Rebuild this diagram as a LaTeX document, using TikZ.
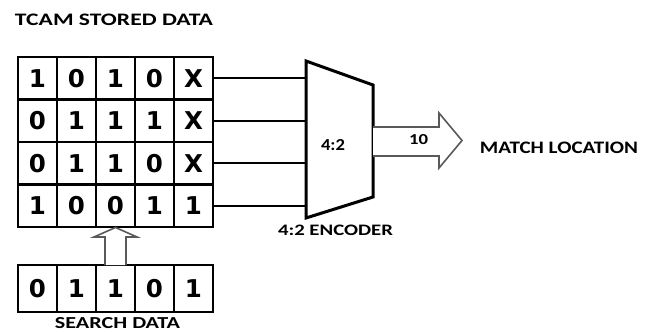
\documentclass[tikz,border=0pt]{standalone}
\usepackage{fontspec}
\setmainfont{Carlito}
\newfontfamily\digitfont{DejaVu Sans}
\usepackage{graphicx}
\newcommand\fitlbl[3]{\resizebox{#1}{#2}{\bfseries #3}}
\tikzset{
  cell/.style={draw=black, line width=2.8pt, minimum width=39pt, minimum height=42.5pt,
    inner sep=0pt, outer sep=0pt, font=\digitfont\fontsize{24.5}{24.5}\selectfont\bfseries},
  scell/.style={cell, minimum height=47pt},
  lbl/.style={inner sep=0pt, outer sep=0pt, text=black},
  wire/.style={line width=2.4pt},
  hollow/.style={draw=black!65, line width=1.6pt, fill=white, line join=miter},
  encbox/.style={line width=3pt, line join=miter}
}
\begin{document}
\begin{tikzpicture}[x=1pt,y=-1pt]
\useasboundingbox (0,0) rectangle (651,332);
% stored data grid
\foreach \row [count=\r] in {{1,0,1,0,X},{0,1,1,1,X},{0,1,1,0,X},{1,0,0,1,1}} {
  \foreach \v [count=\c] in \row {
    \node[cell] (t-\r-\c) at ({18+39*(\c-0.5)},{57+42.5*(\r-0.5)}) {\v};
  }
}
% search data
\foreach \v [count=\c] in {0,1,1,0,1} {
  \node[scell] (s-\c) at ({18+39*(\c-0.5)},288.5) {\v};
}
% encoder
\coordinate (e1) at (306,61);
\coordinate (e2) at (373,85);
\coordinate (e3) at (373,197);
\coordinate (e4) at (306,218);
\draw[encbox] (e1) -- (e2) -- (e3) -- (e4) -- cycle;
\node[lbl] (enc) at (333,145.5) {\fitlbl{24pt}{11pt}{4:2}};
% wires
\foreach \r in {1,...,4} {
  \draw[wire] (t-\r-5.east) -- (t-\r-5.east -| e1);
}
% output arrow
\draw[hollow] (373,127) -- (439,127) -- (439,113) -- (462,140.5) -- (439,168) -- (439,156) -- (373,156);
\node[lbl] (ten) at (418.5,140) {\fitlbl{19pt}{10pt}{10}};
% search arrow
\draw[hollow] (105,265) -- (105,237) -- (94,237) -- (115.5,227.5) -- (137,237) -- (126,237) -- (126,265);
% labels
\node[lbl] (title) at (114,20) {\fitlbl{198pt}{11.5pt}{TCAM STORED DATA}};
\node[lbl] (match) at (559,147.5) {\fitlbl{158pt}{11.5pt}{MATCH LOCATION}};
\node[lbl] (enclbl) at (335.5,230) {\fitlbl{115pt}{10.5pt}{4:2 ENCODER}};
\node[lbl] (search) at (117.5,323.5) {\fitlbl{125pt}{11pt}{SEARCH DATA}};
\end{tikzpicture}
\end{document}
